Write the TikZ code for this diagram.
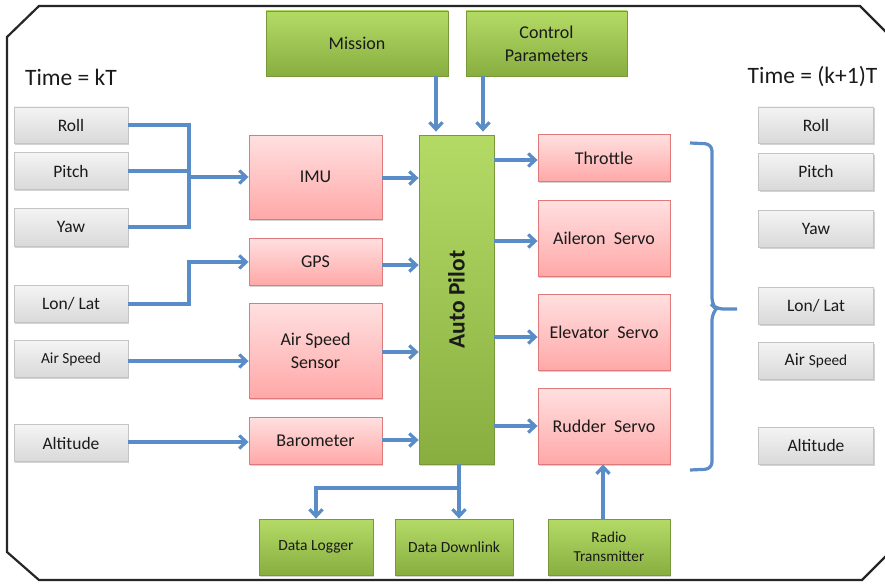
\documentclass[tikz,border=0pt]{standalone}
\usepackage{fontspec}
\setmainfont{Carlito}
\usetikzlibrary{arrows.meta,shadows,positioning}
\definecolor{conn}{HTML}{5A8CC8}
\definecolor{txt}{HTML}{1A1A1A}
\definecolor{gface1}{HTML}{F4F4F4}
\definecolor{gface2}{HTML}{D9D9D9}
\definecolor{gline}{HTML}{C4C4C4}
\definecolor{pface1}{HTML}{FFE0E0}
\definecolor{pface2}{HTML}{FFA8A8}
\definecolor{pline}{HTML}{E07A7A}
\definecolor{eface1}{HTML}{B4DA66}
\definecolor{eface2}{HTML}{88AE40}
\definecolor{eline}{HTML}{789839}
\begin{document}
\begin{tikzpicture}[x=1pt,y=-1pt,
  every node/.style={text=txt, inner sep=0pt, align=center},
  boxbase/.style={rectangle, drop shadow={opacity=0.35, shadow xshift=1.2pt, shadow yshift=-1.5pt}},
  graybox/.style={boxbase, draw=gline, line width=0.8pt, top color=gface1, bottom color=gface2,
     minimum width=114pt, minimum height=37pt, font=\fontsize{17.5}{20}\selectfont},
  pinkbox/.style={boxbase, draw=pline, line width=0.9pt, top color=pface1, bottom color=pface2,
     minimum width=133pt, font=\fontsize{18}{23}\selectfont},
  greenbox/.style={boxbase, draw=eline, line width=0.8pt, top color=eface1, bottom color=eface2,
     font=\fontsize{18}{23}\selectfont},
  smallgreen/.style={greenbox, minimum height=56pt, font=\fontsize{15.5}{19}\selectfont},
  timelabel/.style={font=\fontsize{23.5}{27}\selectfont},
  conline/.style={draw=conn, line width=3.2pt},
  arr/.style={conline, -{Straight Barb[length=7pt,width=13pt,line width=3.2pt]}},
]
\useasboundingbox (0,0) rectangle (885,583);
% frame
\begin{scope}
\clip (0,0) rectangle (885,583);
\draw[line width=2.2pt, color=black!85, line join=miter] (7,37) -- (39,6) -- (860,6) -- (900,46) -- (900,542) -- (862,580) -- (39,580) -- (7,552) -- cycle;
\end{scope}

% time labels
\node[timelabel] (tk) at (71,77) {Time = kT};
\node[timelabel] (tk1) at (812.5,77) {Time = (k+1)T};

% left inputs
\node[graybox, minimum height=36pt] (lroll) at (71,125) {Roll};
\node[graybox] (lpitch) at (71,171) {Pitch};
\node[graybox, minimum height=38pt] (lyaw) at (71,227) {Yaw};
\node[graybox] (llon) at (71,304) {Lon/ Lat};
\node[graybox, font=\fontsize{15.4}{18}\selectfont] (lair) at (71,359) {Air Speed};
\node[graybox] (lalt) at (71,443) {Altitude};

% right outputs
\node[graybox, minimum width=115pt, minimum height=36pt] (rroll) at (816,125) {Roll};
\node[graybox, minimum width=115pt] (rpitch) at (816,171.5) {Pitch};
\node[graybox, minimum width=115pt] (ryaw) at (816,228.5) {Yaw};
\node[graybox, minimum width=115pt] (rlon) at (816,305.5) {Lon/ Lat};
\node[graybox, minimum width=115pt] (rair) at (816,360.5) {Air {\fontsize{15.3}{18}\selectfont Speed}};
\node[graybox, minimum width=115pt] (ralt) at (816,445.5) {Altitude};

% sensors
\node[pinkbox, minimum height=84pt] (imu) at (315.5,177) {IMU};
\node[pinkbox, minimum height=47pt] (gps) at (315.5,261.5) {GPS};
\node[pinkbox, minimum height=95pt] (ass) at (315.5,350.5) {Air Speed\\Sensor};
\node[pinkbox, minimum height=47pt] (baro) at (315.5,440.5) {Barometer};

% autopilot
\node[greenbox, minimum width=75pt, minimum height=329pt] (ap) at (456.5,299.5) {};
\node[rotate=90, font=\bfseries\fontsize{23.5}{27}\selectfont] (aptext) at (ap.center) {Auto Pilot};

% top
\node[greenbox, minimum width=182pt, minimum height=65pt] (mission) at (357,43.5) {Mission};
\node[greenbox, minimum width=161pt, minimum height=65pt] (control) at (546.5,43.5) {Control\\Parameters};

% actuators
\node[pinkbox, minimum width=132pt, minimum height=47pt] (thr) at (604,158) {Throttle};
\node[pinkbox, minimum width=132pt, minimum height=76pt] (ail) at (604,238) {Aileron~ Servo};
\node[pinkbox, minimum width=132pt, minimum height=76pt] (ele) at (604,332) {Elevator~ Servo};
\node[pinkbox, minimum width=132pt, minimum height=76pt] (rud) at (604,426) {Rudder~ Servo};

% bottom
\node[smallgreen, minimum width=114pt] (logger) at (316,547) {Data Logger};
\node[smallgreen, minimum width=118pt] (downlink) at (454,547) {Data Downlink};
\node[smallgreen, minimum width=122pt, font=\fontsize{15.2}{19}\selectfont] (radio) at (609,547) {Radio\\Transmitter};

% junction coordinates
\coordinate (jL) at (189,177);
\coordinate (jG) at (189,262);
\coordinate (jB) at (459,488);
\coordinate (apin1) at (436,0);
\coordinate (apin2) at (483,0);
\coordinate (apbot) at (459,0);
\coordinate (radx) at (603,0);

% left to sensors
\draw[conline] (lroll.east) -| (jL);
\draw[conline] (lyaw.east) -| (jL);
\draw[conline] (lpitch.east) -- (lpitch.east -| jL);
\draw[arr] (jL) -- (jL -| imu.west);
\draw[arr] (llon.east) -| (jG) -- (jG -| gps.west);
\draw[arr] (lair.east |- 0,361) -- (ass.west |- 0,361);
\draw[arr] (lalt.east |- 0,442) -- (baro.west |- 0,442);

% sensors to autopilot
\draw[arr] (imu.east |- 0,178) -- (ap.west |- 0,178);
\draw[arr] (gps.east |- 0,265) -- (ap.west |- 0,265);
\draw[arr] (ass.east |- 0,352) -- (ap.west |- 0,352);
\draw[arr] (baro.east |- 0,440) -- (ap.west |- 0,440);

% top to autopilot
\draw[arr, shorten >=3pt] (apin1 |- mission.south) -- (apin1 |- ap.north);
\draw[arr, shorten >=3pt] (apin2 |- control.south) -- (apin2 |- ap.north);

% autopilot to actuators
\draw[arr] (ap.east |- 0,160) -- (thr.west |- 0,160);
\draw[arr] (ap.east |- 0,241) -- (ail.west |- 0,241);
\draw[arr] (ap.east |- 0,337) -- (ele.west |- 0,337);
\draw[arr] (ap.east |- 0,426) -- (rud.west |- 0,426);

% bottom
\draw[arr] (apbot |- ap.south) -- (apbot |- downlink.north);
\draw[arr] (jB) -| (logger.north -| 316,0);
\draw[arr] (radx |- radio.north) -- (radx |- rud.south);

% brace
\coordinate (brT) at (690,143);
\coordinate (brM) at (737,309);
\coordinate (brB) at (690,470);
\draw[conline, rounded corners=7pt] (brT) -- (712,144) -- (712,305) -- (716,309) -- (brM);
\draw[conline, rounded corners=7pt] (716,309) -- (712,313) -- (712,469) -- (brB);
\end{tikzpicture}
\end{document}
